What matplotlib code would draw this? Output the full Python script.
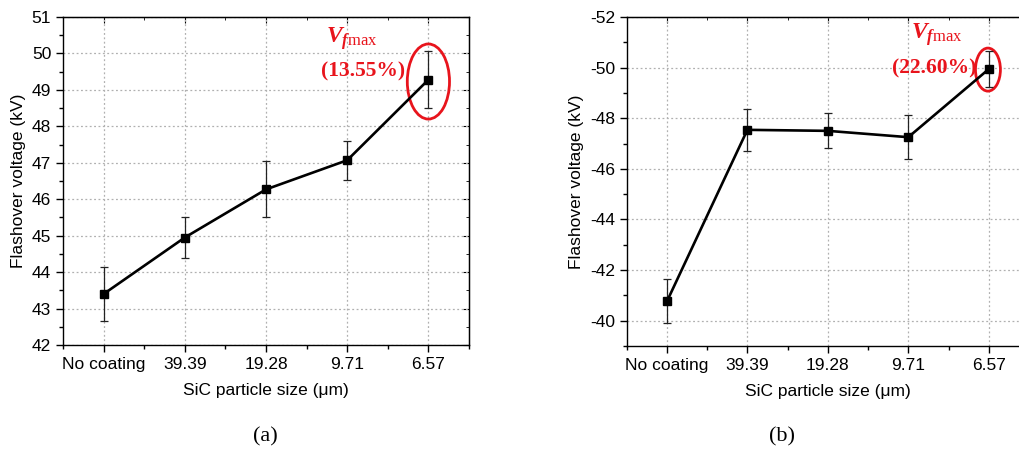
import matplotlib as mpl
mpl.use('Agg')
from matplotlib import pyplot as plt
from matplotlib.patches import Ellipse
from matplotlib.ticker import MultipleLocator
import numpy as np

plt.rcParams['font.family'] = ['Liberation Sans', 'DejaVu Sans']
plt.rcParams['axes.unicode_minus'] = False
plt.rcParams['mathtext.fontset'] = 'custom'
plt.rcParams['mathtext.rm'] = 'Liberation Serif'
plt.rcParams['mathtext.it'] = 'Liberation Serif:italic:bold'
plt.rcParams['mathtext.bf'] = 'Liberation Serif:bold'

# data
sizes = ['No coating', '39.39', '19.28', '9.71', '6.57']
pos_volt = [43.40, 44.95, 46.27, 47.07, 49.28]
pos_err = [0.73, 0.55, 0.77, 0.54, 0.79]
neg_volt = [-40.76, -47.54, -47.50, -47.25, -49.94]
neg_err = [0.87, 0.84, 0.69, 0.88, 0.72]
pos_gain = '(13.55%)'
neg_gain = '(22.60%)'

fig = plt.figure(figsize=(10.2, 4.61), dpi=100)
ax1 = fig.add_axes([0.0618, 0.2516, 0.398, 0.7115])
ax2 = fig.add_axes([0.6144, 0.2495, 0.3944, 0.7137])

x = np.arange(1, len(sizes) + 1)
red = '#e8141c'

def style(ax, yminor):
    ax.set_xlim(0.5, 5.5)
    ax.set_xticks(x)
    ax.set_xticklabels(sizes)
    ax.xaxis.set_minor_locator(MultipleLocator(0.5))
    ax.yaxis.set_minor_locator(MultipleLocator(yminor))
    ax.grid(True, which='major', color='#b0b0b0', linestyle=(0, (1.5, 2)), linewidth=0.9)
    ax.set_axisbelow(True)
    ax.tick_params(which='both', direction='out', labelsize=12.5, width=1)
    ax.tick_params(which='major', length=5)
    ax.tick_params(which='minor', length=3)
    for s in ax.spines.values():
        s.set_linewidth(1.0)
    ax.set_xlabel('SiC particle size (\u03bcm)', fontsize=12.5, labelpad=8)
    ax.set_ylabel('Flashover voltage (kV)', fontsize=12.5, labelpad=4)
    sec = ax.secondary_xaxis('top')
    sec.set_xticks(x)
    sec.xaxis.set_minor_locator(MultipleLocator(0.5))
    sec.tick_params(which='both', direction='in', labeltop=False, length=4)
    sec.tick_params(which='minor', length=2.5)
    secy = ax.secondary_yaxis('right')
    secy.yaxis.set_major_locator(ax.yaxis.get_major_locator())
    secy.yaxis.set_minor_locator(MultipleLocator(yminor))
    secy.tick_params(which='both', direction='in', labelright=False, length=4)
    secy.tick_params(which='minor', length=2.5)

# (a) positive
ax1.errorbar(x, pos_volt, yerr=pos_err, color='black', lw=1.9, marker='s',
             ms=6, ecolor='#222222', elinewidth=0.9, capsize=3, capthick=0.9)
ax1.set_ylim(42, 51)
ax1.yaxis.set_major_locator(MultipleLocator(1))
style(ax1, 0.5)
ax1.text(4.05, 50.4, r'$V_{f\mathrm{max}}$', color=red, fontsize=17,
         ha='center', va='center')
ax1.text(4.2, 49.5, pos_gain, color=red, fontsize=15.5, fontweight='bold',
         family='Liberation Serif', ha='center', va='center')
ax1.add_patch(Ellipse((5.0, 49.23), 0.52, 2.06, fill=False, edgecolor=red, lw=2))

# (b) negative
ax2.errorbar(x, neg_volt, yerr=neg_err, color='black', lw=1.9, marker='s',
             ms=6, ecolor='#222222', elinewidth=0.9, capsize=3, capthick=0.9)
ax2.set_ylim(-39, -52)
ax2.yaxis.set_major_locator(MultipleLocator(2))
style(ax2, 1)
ax2.text(4.35, -51.3, r'$V_{f\mathrm{max}}$', color=red, fontsize=17,
         ha='center', va='center')
ax2.text(4.32, -49.96, neg_gain, color=red, fontsize=15.5, fontweight='bold',
         family='Liberation Serif', ha='center', va='center')
ax2.add_patch(Ellipse((4.99, -49.92), 0.31, 1.7, fill=False, edgecolor=red, lw=2))

fig.text(265 / 1020, 1 - 437 / 461, '(a)', family='Liberation Serif', fontsize=16,
         ha='center', va='center')
fig.text(782 / 1020, 1 - 437 / 461, '(b)', family='Liberation Serif', fontsize=16,
         ha='center', va='center')

fig.savefig('out.png', dpi=100)
